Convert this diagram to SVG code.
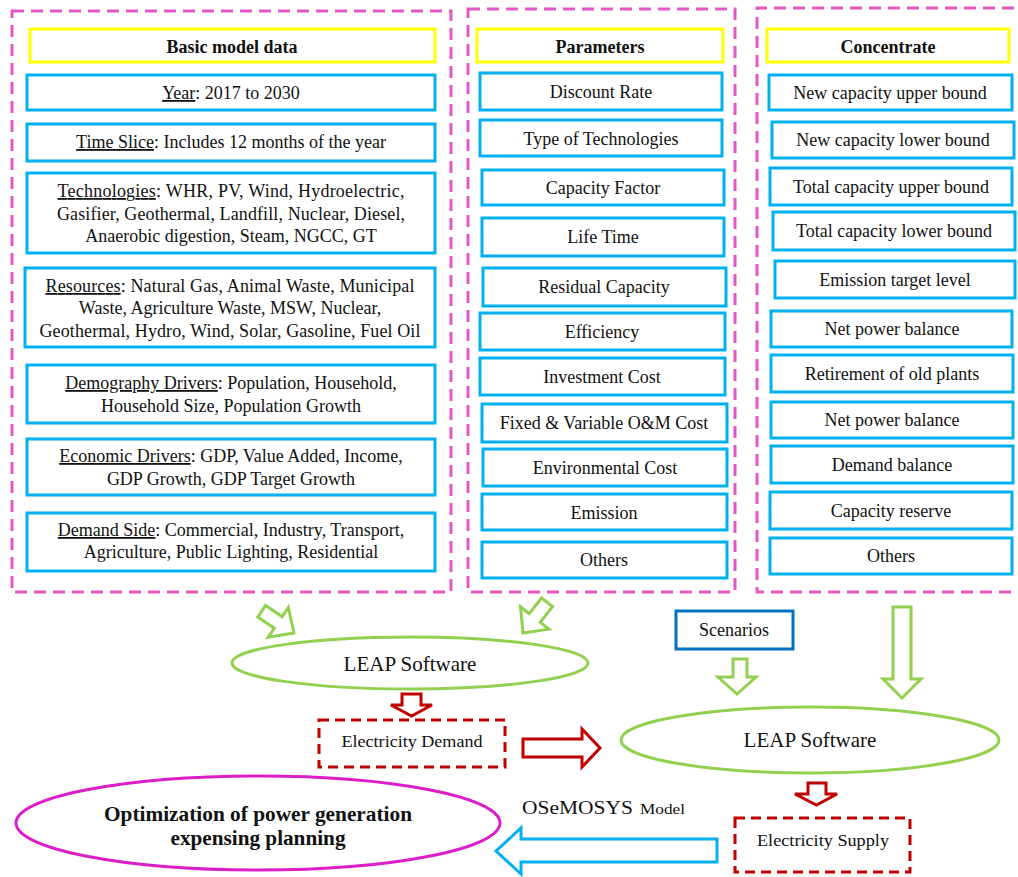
<svg xmlns="http://www.w3.org/2000/svg" width="1018" height="877" viewBox="0 0 1018 877">
<style>
text{font-family:"Liberation Serif","Times New Roman",serif;font-size:18px;fill:#111;text-anchor:middle}
.hdr{font-weight:bold}
.u{text-decoration:underline}
.grp{fill:none;stroke:#E356C5;stroke-width:3;stroke-dasharray:12 7}
.yb{fill:#fff;stroke:#FFFF00;stroke-width:3}
.bb{fill:#fff;stroke:#00B0F0;stroke-width:3}
.rd{fill:#fff;stroke:#C00000;stroke-width:3;stroke-dasharray:10 6}
.ga{fill:#fff;stroke:#92D050;stroke-width:3;stroke-linejoin:miter}
.ra{fill:#fff;stroke:#C00000;stroke-width:3}
.ba{fill:#fff;stroke:#00B0F0;stroke-width:3}
.ell{fill:#fff;stroke:#92D050;stroke-width:3}
</style>
<rect width="1018" height="877" fill="#fff"/>

<!-- containers -->
<g id="group-basic"><rect class="grp" x="12" y="11" width="439" height="581"/></g>
<g id="group-params"><rect class="grp" x="468" y="9" width="267" height="583"/></g>
<g id="group-concentrate"><path class="grp" d="M1014 8 H757 V592 H1014"/></g>

<!-- column 1 -->
<g id="hdr-basic"><rect class="yb" x="30" y="29" width="405" height="33"/><text class="hdr" x="232" y="53">Basic model data</text></g>
<g id="n-year"><rect class="bb" x="27" y="75" width="408" height="35"/><text x="231" y="99"><tspan class="u">Year</tspan>: 2017 to 2030</text></g>
<g id="n-timeslice"><rect class="bb" x="27" y="124" width="408" height="37"/><text x="231" y="148"><tspan class="u">Time Slice</tspan>: Includes 12 months of the year</text></g>
<g id="n-tech"><rect class="bb" x="27" y="173" width="408" height="80"/>
<text x="231" y="197" textLength="347" lengthAdjust="spacing"><tspan class="u">Technologies</tspan>: WHR, PV, Wind, Hydroelectric,</text>
<text x="231" y="220" textLength="348" lengthAdjust="spacing">Gasifier, Geothermal, Landfill, Nuclear, Diesel,</text>
<text x="231" y="242">Anaerobic digestion, Steam, NGCC, GT</text></g>
<g id="n-resources"><rect class="bb" x="25" y="268" width="410" height="79"/>
<text x="230" y="292" textLength="369" lengthAdjust="spacing"><tspan class="u">Resources</tspan>: Natural Gas, Animal Waste, Municipal</text>
<text x="230" y="314">Waste, Agriculture Waste, MSW, Nuclear,</text>
<text x="230" y="337" textLength="381" lengthAdjust="spacing">Geothermal, Hydro, Wind, Solar, Gasoline, Fuel Oil</text></g>
<g id="n-demography"><rect class="bb" x="27" y="365" width="408" height="58"/>
<text x="231" y="389"><tspan class="u">Demography Drivers</tspan>: Population, Household,</text>
<text x="231" y="412">Household Size, Population Growth</text></g>
<g id="n-economic"><rect class="bb" x="27" y="439" width="408" height="56"/>
<text x="231" y="462"><tspan class="u">Economic Drivers</tspan>: GDP, Value Added, Income,</text>
<text x="231" y="485">GDP Growth, GDP Target Growth</text></g>
<g id="n-demandside"><rect class="bb" x="27" y="513" width="408" height="58"/>
<text x="231" y="536"><tspan class="u">Demand Side</tspan>: Commercial, Industry, Transport,</text>
<text x="231" y="558">Agriculture, Public Lighting, Residential</text></g>

<!-- column 2 -->
<g id="hdr-params"><rect class="yb" x="477" y="29" width="246" height="33"/><text class="hdr" x="600" y="53">Parameters</text></g>
<g id="p1"><rect class="bb" x="480" y="73" width="242" height="37"/><text x="601" y="98">Discount Rate</text></g>
<g id="p2"><rect class="bb" x="480" y="120" width="242" height="36"/><text x="601" y="145">Type of Technologies</text></g>
<g id="p3"><rect class="bb" x="482" y="170" width="242" height="35"/><text x="603" y="194">Capacity Factor</text></g>
<g id="p4"><rect class="bb" x="482" y="218" width="242" height="38"/><text x="603" y="243">Life Time</text></g>
<g id="p5"><rect class="bb" x="483" y="268" width="243" height="38"/><text x="604" y="293">Residual Capacity</text></g>
<g id="p6"><rect class="bb" x="480" y="313" width="245" height="37"/><text x="602" y="338">Efficiency</text></g>
<g id="p7"><rect class="bb" x="480" y="358" width="245" height="37"/><text x="602" y="383">Investment Cost</text></g>
<g id="p8"><rect class="bb" x="482" y="404" width="245" height="38"/><text x="604" y="429">Fixed &amp; Variable O&amp;M Cost</text></g>
<g id="p9"><rect class="bb" x="483" y="449" width="244" height="37"/><text x="605" y="474">Environmental Cost</text></g>
<g id="p10"><rect class="bb" x="482" y="494" width="245" height="36"/><text x="604" y="519">Emission</text></g>
<g id="p11"><rect class="bb" x="482" y="542" width="245" height="36"/><text x="604" y="566">Others</text></g>

<!-- column 3 -->
<g id="hdr-conc"><rect class="yb" x="767" y="29" width="242" height="33"/><text class="hdr" x="888" y="53">Concentrate</text></g>
<g id="c1"><rect class="bb" x="769" y="75" width="243" height="35"/><text x="890" y="99">New capacity upper bound</text></g>
<g id="c2"><rect class="bb" x="772" y="122" width="242" height="36"/><text x="893" y="146">New capacity lower bound</text></g>
<g id="c3"><rect class="bb" x="770" y="168" width="242" height="37"/><text x="891" y="193">Total capacity upper bound</text></g>
<g id="c4"><rect class="bb" x="773" y="212" width="242" height="38"/><text x="894" y="237">Total capacity lower bound</text></g>
<g id="c5"><rect class="bb" x="775" y="261" width="240" height="37"/><text x="895" y="286">Emission target level</text></g>
<g id="c6"><rect class="bb" x="771" y="311" width="241" height="36"/><text x="892" y="335">Net power balance</text></g>
<g id="c7"><rect class="bb" x="771" y="355" width="242" height="37"/><text x="892" y="380">Retirement of old plants</text></g>
<g id="c8"><rect class="bb" x="771" y="402" width="242" height="36"/><text x="892" y="426">Net power balance</text></g>
<g id="c9"><rect class="bb" x="771" y="446" width="242" height="37"/><text x="892" y="471">Demand balance</text></g>
<g id="c10"><rect class="bb" x="770" y="492" width="242" height="37"/><text x="891" y="517">Capacity reserve</text></g>
<g id="c11"><rect class="bb" x="770" y="538" width="242" height="36"/><text x="891" y="562">Others</text></g>

<!-- lower nodes -->
<g id="leap1"><ellipse class="ell" cx="410" cy="663" rx="178" ry="26"/><text x="410" y="671" style="font-size:21px">LEAP Software</text></g>
<g id="elec-demand"><rect class="rd" x="319" y="720" width="186" height="47"/><text x="412" y="747" textLength="141" lengthAdjust="spacingAndGlyphs" style="font-size:17.5px">Electricity Demand</text></g>
<g id="scenarios"><rect x="676" y="611" width="117" height="38" fill="#fff" stroke="#0070C0" stroke-width="3"/><text x="734" y="636">Scenarios</text></g>
<g id="leap2"><ellipse class="ell" cx="810" cy="740" rx="189" ry="33"/><text x="810" y="747" style="font-size:21px">LEAP Software</text></g>
<g id="elec-supply"><rect class="rd" x="735" y="818" width="175" height="54"/><text x="823" y="846" textLength="132" lengthAdjust="spacingAndGlyphs" style="font-size:17px">Electricity Supply</text></g>
<g id="optimization"><ellipse cx="258" cy="823" rx="242" ry="47" fill="#fff" stroke="#DC1EC8" stroke-width="3"/>
<text class="hdr" x="258" y="821" textLength="308" lengthAdjust="spacingAndGlyphs" style="font-size:20px">Optimization of power generation</text>
<text class="hdr" x="258" y="845" textLength="175" lengthAdjust="spacingAndGlyphs" style="font-size:20px">expensing planning</text></g>
<g id="label-osemosys"><text x="522" y="814" style="text-anchor:start;font-size:19px"><tspan textLength="111" lengthAdjust="spacingAndGlyphs">OSeMOSYS</tspan><tspan x="640" textLength="45" lengthAdjust="spacingAndGlyphs" style="font-size:15px">Model</tspan></text></g>

<!-- connectors -->
<g id="connectors">
<polygon class="ga" transform="translate(294,633) rotate(34) translate(-39,0)" points="0,-7 20,-7 20,-18 39,0 20,18 20,7 0,7"/>
<polygon class="ga" transform="translate(523,633) rotate(128) translate(-39,0)" points="0,-7 20,-7 20,-18 39,0 20,18 20,7 0,7"/>
<polygon class="ra" points="402,694 421,694 421,705 432,705 411.5,716 391,705 402,705"/>
<polygon class="ra" points="523,739 582,739 582,729 600,748 582,767 582,757 523,757"/>
<polygon class="ga" points="733,659 747,659 747,677 756,677 737,694 718,677 733,677"/>
<polygon class="ga" points="893,607 911,607 911,679 921,679 902,698 883,679 893,679"/>
<polygon class="ra" points="808,783 826,783 826,794 837,794 816.5,805 795,794 808,794"/>
<polygon class="ba" points="717,839 521,839 521,828 496,851 521,874 521,862 717,862"/>
</g>
</svg>
